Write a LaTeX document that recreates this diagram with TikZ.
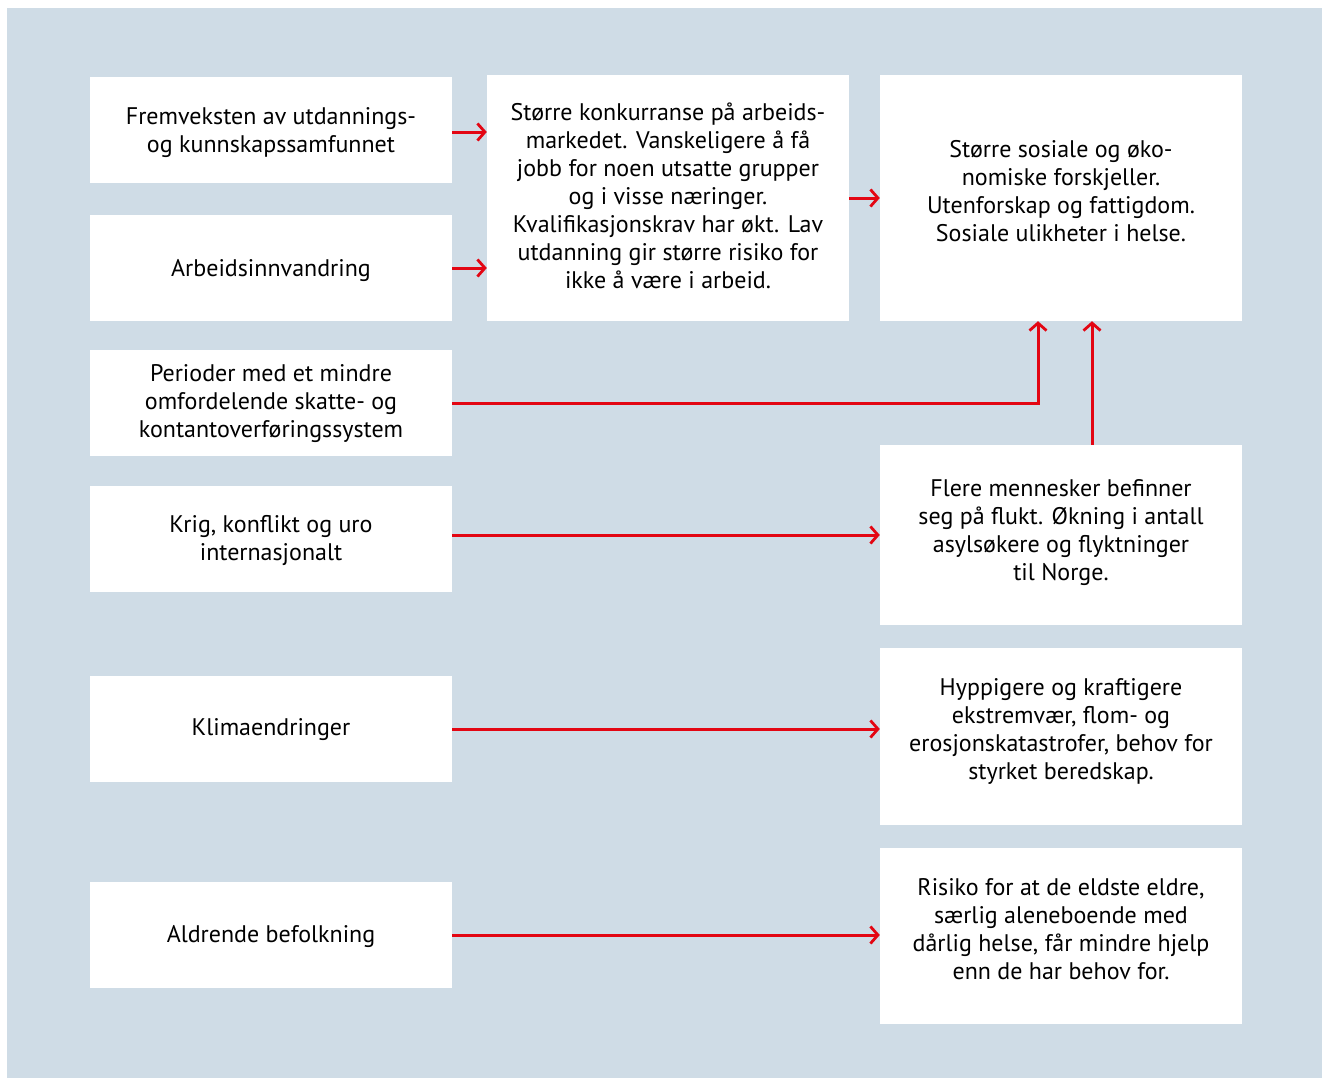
\documentclass[tikz,border=0pt]{standalone}
\usepackage{fontspec}
\setmainfont{PT Sans}
\usetikzlibrary{arrows.meta}
\definecolor{bgblue}{HTML}{CFDCE6}
\definecolor{arrred}{HTML}{E30613}
\tikzset{
  box/.style={fill=white, draw=none, inner sep=0pt},
  txt/.style={align=center, font=\fontsize{24}{28}\selectfont, inner sep=0pt},
  lbox/.style={box, minimum width=362pt, minimum height=106pt},
  rbox/.style={box, minimum width=362pt},
  arr/.style={draw=arrred, line width=3pt, -{Straight Barb[length=7.5pt,width=17pt,line width=2.8pt]}}
}
\begin{document}
\begin{tikzpicture}[x=1pt,y=-1pt]
\useasboundingbox (0,0) rectangle (1324,1079);
\fill[white] (0,0) rectangle (1324,1079);
\fill[bgblue] (7,8) rectangle (1322,1078);
% left column
\node[lbox] (A) at (271,130) {};
\node[txt] (At) at ([yshift=-3pt]A.center) {Fremveksten av utdannings-\\og kunnskapssamfunnet};
\node[lbox] (B) at (271,268) {};
\node[txt] (Bt) at ([yshift=-3pt]B.center) {Arbeidsinnvandring};
\node[lbox] (C) at (271,403) {};
\node[txt] (Ct) at ([yshift=-1pt]C.center) {Perioder med et mindre\\omfordelende skatte- og\\kontantoverføringssystem};
\node[lbox] (D) at (271,539) {};
\node[txt] (Dt) at ([yshift=-1pt]D.center) {Krig, konflikt og uro\\internasjonalt};
\node[lbox] (E) at (271,729) {};
\node[txt] (Et) at ([yshift=-1pt]E.center) {Klimaendringer};
\node[lbox] (F) at (271,935) {};
\node[txt] (Ft) at ([yshift=-1pt]F.center) {Aldrende befolkning};
% middle
\node[box, minimum width=362pt, minimum height=246pt] (M) at (668,198) {};
\node[txt] (Mt) at ([yshift=2pt]M.center) {Større konkurranse på arbeids-\\markedet. Vanskeligere å få\\jobb for noen utsatte grupper\\og i visse næringer.\\Kvalifikasjonskrav har økt. Lav\\utdanning gir større risiko for\\ikke å være i arbeid.};
% right column
\node[rbox, minimum height=246pt] (R1) at (1061,198) {};
\node[txt] (R1t) at ([yshift=7pt]R1.center) {Større sosiale og øko-\\nomiske forskjeller.\\Utenforskap og fattigdom.\\Sosiale ulikheter i helse.};
\node[rbox, minimum height=180pt] (R2) at (1061,535) {};
\node[txt] (R2t) at ([yshift=2pt]R2.center) {Flere mennesker befinner\\seg på flukt. Økning i antall\\asylsøkere og flyktninger\\til Norge.};
\node[rbox, minimum height=177pt] (R3) at (1061,736.5) {};
\node[txt] (R3t) at ([yshift=5.5pt]R3.center) {Hyppigere og kraftigere\\ekstremvær, flom- og\\erosjonskatastrofer, behov for\\styrket beredskap.};
\node[rbox, minimum height=176pt] (R4) at (1061,936) {};
\node[txt] (R4t) at ([yshift=7pt]R4.center) {Risiko for at de eldste eldre,\\særlig aleneboende med\\dårlig helse, får mindre hjelp\\enn de har behov for.};
% connectors
\draw[arr] ([yshift=-2pt]A.east) -- ([yshift=-2pt]A.east -| M.west);
\draw[arr] (B.east) -- (B.east -| M.west);
\draw[arr] (M.east) -- (R1.west);
\draw[arr] (C.east) -| ([xshift=-23pt]R1.south);
\draw[arr] ([xshift=31pt]R2.north) -- ([xshift=31pt]R1.south);
\draw[arr] (D.east |- R2.west) -- (R2.west);
\draw[arr] (E.east) -- (E.east -| R3.west);
\draw[arr] (F.east) -- (F.east -| R4.west);
\end{tikzpicture}
\end{document}
